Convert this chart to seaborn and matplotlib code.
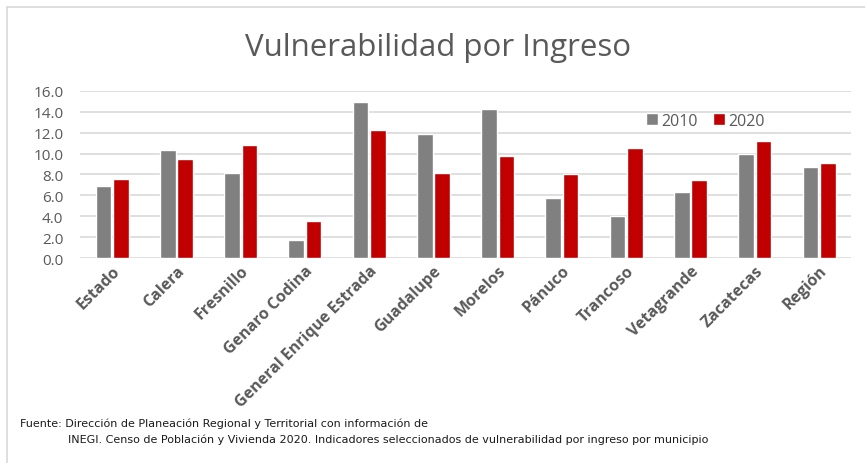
import numpy as np
import pandas as pd
import seaborn as sns
from matplotlib import pyplot as plt
from matplotlib.lines import Line2D

municipios = ["Estado", "Calera", "Fresnillo", "Genaro Codina", "General Enrique Estrada",
              "Guadalupe", "Morelos", "Pánuco", "Trancoso", "Vetagrande", "Zacatecas", "Región"]
valores_2010 = [6.9, 10.3, 8.1, 1.7, 14.9, 11.9, 14.3, 5.7, 4.0, 6.3, 10.0, 8.7]
valores_2020 = [7.6, 9.5, 10.8, 3.5, 12.3, 8.1, 9.8, 8.0, 10.5, 7.5, 11.2, 9.1]
anios = ["2010", "2020"]
yticks = [0, 2, 4, 6, 8, 10, 12, 14, 16]

df = pd.DataFrame({
    "municipio": municipios * 2,
    "anio": [anios[0]] * len(municipios) + [anios[1]] * len(municipios),
    "valor": valores_2010 + valores_2020,
})

sns.set_style("white")
plt.rcParams["font.family"] = ["Open Sans", "DejaVu Sans"]

fig = plt.figure(figsize=(8.65, 4.64), dpi=100)
ax = fig.add_axes([0.0925, 0.4418, 0.8915, 0.36])

sns.barplot(data=df, x="municipio", y="valor", hue="anio", order=municipios,
            hue_order=anios, palette=["#808080", "#C00000"], width=0.54, gap=0.1,
            saturation=1, errorbar=None, ax=ax, zorder=3)

ax.set_ylim(0, 16)
ax.set_yticks(yticks)
ax.set_yticklabels([f"{v:.1f}" for v in yticks], fontsize=11, color="#595959")
ax.set_xlim(-0.5, len(municipios) - 0.5)
ax.grid(axis="y", color="#D9D9D9", linewidth=1.2, zorder=0)
ax.set_axisbelow(True)
for s in ax.spines.values():
    s.set_visible(False)
ax.tick_params(axis="y", length=0, pad=12)
ax.tick_params(axis="x", length=0, pad=3)
ax.set_xlabel("")
ax.set_ylabel("")
ax.set_xticks(range(len(municipios)))
ax.set_xticklabels(municipios, rotation=45, ha="right", rotation_mode="anchor",
                   fontsize=11.5, fontweight="bold", color="#595959")

handles, labels = ax.get_legend_handles_labels()
ax.legend(handles, labels, loc="upper left", bbox_to_anchor=(0.715, 0.955), ncol=2,
          frameon=False, fontsize=11.5, handlelength=0.75, handleheight=0.75,
          handletextpad=0.2, columnspacing=1.0, labelcolor="#595959")

fig.text(0.506, 0.897, "Vulnerabilidad por Ingreso", ha="center", va="center",
         fontsize=22.5, color="#595959")

# marco del grafico
fig.add_artist(Line2D([0.008, 0.008], [0.0, 0.983], color="#D9D9D9", lw=1.2))
fig.add_artist(Line2D([0.008, 1.0], [0.983, 0.983], color="#D9D9D9", lw=1.2))

nota = ["Liberation Sans Narrow", "DejaVu Sans"]
fig.text(0.023, 0.086, "Fuente: Dirección de Planeación Regional y Territorial con información de",
         fontsize=8, family=nota, color="#1a1a1a", va="center")
fig.text(0.079, 0.052, "INEGI. Censo de Población y Vivienda 2020. Indicadores seleccionados de "
         "vulnerabilidad por ingreso por municipio",
         fontsize=8, family=nota, color="#1a1a1a", va="center")

plt.savefig("out.png", dpi=100)
